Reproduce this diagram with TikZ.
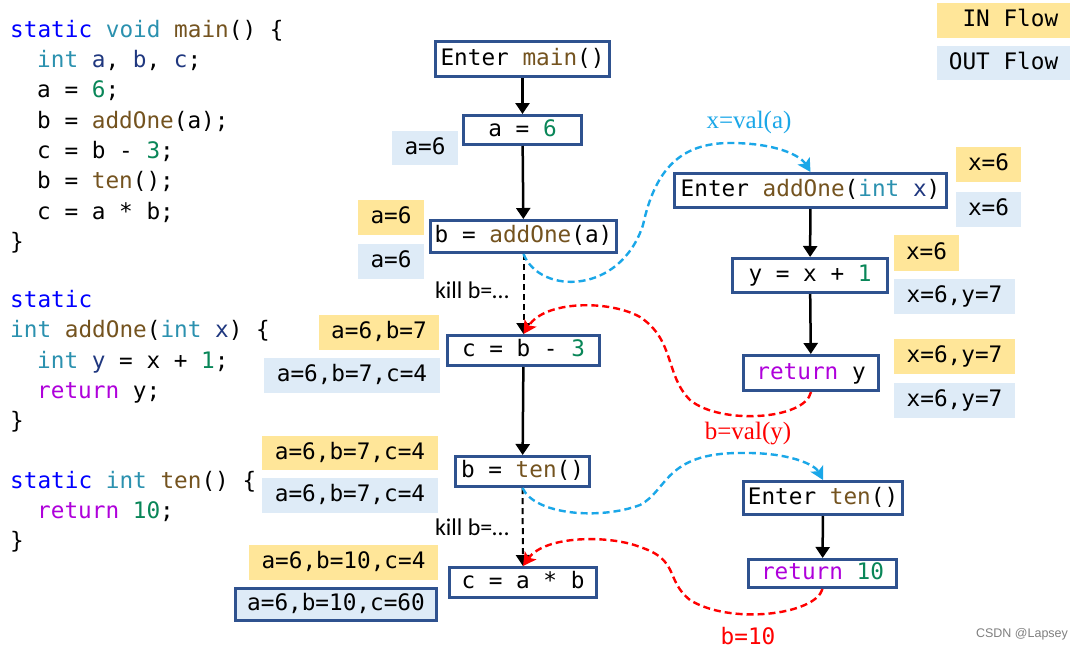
\documentclass[tikz,border=0pt]{standalone}
\usepackage{fontspec}
\setmonofont{DejaVu Sans Mono}
\newfontfamily\lblserif{Liberation Serif}
\newfontfamily\lblsans{Carlito}
\newfontfamily\wmfont{Liberation Sans}
\usetikzlibrary{arrows.meta}
\definecolor{boxblue}{HTML}{2F528F}
\definecolor{inyellow}{HTML}{FFE699}
\definecolor{outblue}{HTML}{DEEBF7}
\definecolor{kwblue}{HTML}{0000FF}
\definecolor{tyteal}{HTML}{2B91AF}
\definecolor{fnbrown}{HTML}{74531F}
\definecolor{varnavy}{HTML}{1F377F}
\definecolor{numgreen}{HTML}{098658}
\definecolor{retpurple}{HTML}{AF00DB}
\definecolor{callblue}{HTML}{1AA7E8}
\definecolor{retred}{HTML}{FF0000}
\newcommand\cSt[1]{\textcolor{kwblue}{#1}}
\newcommand\cTy[1]{\textcolor{tyteal}{#1}}
\newcommand\cFn[1]{\textcolor{fnbrown}{#1}}
\newcommand\cVa[1]{\textcolor{varnavy}{#1}}
\newcommand\cNu[1]{\textcolor{numgreen}{#1}}
\newcommand\cRe[1]{\textcolor{retpurple}{#1}}
\newcommand\codefont{\fontsize{22.7}{27}\selectfont\ttfamily}
\tikzset{
  codeline/.style={anchor=base west, inner sep=0pt, font=\codefont},
  cfg/.style={draw=boxblue, line width=3pt, fill=white, font=\codefont, inner sep=0pt,
    text height=16.5pt, text depth=4.5pt},
  fact/.style={inner sep=0pt, font=\codefont, text height=16.5pt, text depth=4.5pt},
  infact/.style={fact, fill=inyellow},
  outfact/.style={fact, fill=outblue},
  flow/.style={-{Triangle[length=11pt,width=14pt]}, line width=2.5pt, black},
  killflow/.style={flow, line width=2pt, dash pattern=on 6pt off 4pt},
  callflow/.style={-{Stealth[length=13pt,width=14pt,inset=3pt]}, line width=2.4pt, callblue, dash pattern=on 7pt off 4pt},
  retflow/.style={-{Stealth[length=13pt,width=14pt,inset=3pt]}, line width=2.4pt, retred, dash pattern=on 7pt off 4pt},
  killlbl/.style={font=\lblsans\fontsize{24}{28}\selectfont, inner sep=0pt},
  vallbl/.style={font=\lblserif\fontsize{25}{29}\selectfont, inner sep=0pt}
}
\begin{document}
\begin{tikzpicture}[x=1pt,y=-1pt]
\useasboundingbox (0,0) rectangle (1070,651);
\fill[white] (0,0) rectangle (1070,651);
% ---------- source code ----------
\node[codeline] (l1) at (10,37) {\cSt{static} \cTy{void} \cFn{main}() \{};
\node[codeline] (l2) at (37,67.3) {\cTy{int} \cVa{a}, \cVa{b}, \cVa{c};};
\node[codeline] (l3) at (37,97.6) {a = \cNu{6};};
\node[codeline] (l4) at (37,128) {b = \cFn{addOne}(a);};
\node[codeline] (l5) at (37,158.3) {c = b - \cNu{3};};
\node[codeline] (l6) at (37,188.6) {b = \cFn{ten}();};
\node[codeline] (l7) at (37,219) {c = a * b;};
\node[codeline] (l8) at (10,249.3) {\}};
\node[codeline] (l9) at (10,307) {\cSt{static}};
\node[codeline] (l10) at (10,337.5) {\cTy{int} \cFn{addOne}(\cTy{int} \cVa{x}) \{};
\node[codeline] (l11) at (37,368) {\cTy{int} \cVa{y} = x + \cNu{1};};
\node[codeline] (l12) at (37,398.3) {\cRe{return} y;};
\node[codeline] (l13) at (10,428.6) {\}};
\node[codeline] (l14) at (10,488) {\cSt{static} \cTy{int} \cFn{ten}() \{};
\node[codeline] (l15) at (37,518.3) {\cRe{return} \cNu{10};};
\node[codeline] (l16) at (10,548.6) {\}};
% ---------- legend ----------
\node[infact, minimum width=133pt, minimum height=35pt] (inleg) at (1003.5,20.5) {\hphantom{X}IN Flow};
\node[outfact, minimum width=133pt, minimum height=34pt] (outleg) at (1003.5,63) {OUT Flow};
% ---------- main CFG ----------
\node[cfg, minimum width=174pt, minimum height=35pt] (em) at (522.5,59) {Enter \cFn{main}()};
\node[cfg, minimum width=118pt, minimum height=29pt] (a6) at (522.5,130) {a = \cNu{6}};
\node[cfg, minimum width=186pt, minimum height=32pt] (bao) at (523.5,236.5) {b = \cFn{addOne}(a)};
\node[cfg, minimum width=152pt, minimum height=30pt] (cb3) at (523.5,350.5) {c = b - \cNu{3}};
\node[cfg, minimum width=134pt, minimum height=30pt] (bten) at (522.5,471.5) {b = \cFn{ten}()};
\node[cfg, minimum width=147pt, minimum height=30pt] (cab) at (523,582.5) {c = a * b};
% ---------- addOne CFG ----------
\node[cfg, minimum width=272pt, minimum height=34pt] (ea) at (810.5,190.5) {Enter \cFn{addOne}(\cTy{int} \cVa{x})};
\node[cfg, minimum width=155pt, minimum height=34pt] (yx) at (810,275.5) {y = x + \cNu{1}};
\node[cfg, minimum width=135pt, minimum height=35pt] (ry) at (811,373) {\cRe{return} y};
% ---------- ten CFG ----------
\node[cfg, minimum width=159pt, minimum height=33pt] (et) at (823,498) {Enter \cFn{ten}()};
\node[cfg, minimum width=148pt, minimum height=28pt] (r10) at (822.5,573.5) {\cRe{return} \cNu{10}};
% ---------- facts ----------
\node[outfact, minimum width=66pt, minimum height=34pt] (f1) at (425,148) {a=6};
\node[infact, minimum width=66pt, minimum height=35pt] (f2) at (391,217.5) {a=6};
\node[outfact, minimum width=66pt, minimum height=35pt] (f3) at (391,261.5) {a=6};
\node[infact, minimum width=120pt, minimum height=35pt] (f4) at (379,332.5) {a=6,b=7};
\node[outfact, minimum width=176pt, minimum height=35pt] (f5) at (352,375.5) {a=6,b=7,c=4};
\node[infact, minimum width=176pt, minimum height=34pt] (f6) at (350,453) {a=6,b=7,c=4};
\node[outfact, minimum width=176pt, minimum height=35pt] (f7) at (350,495.5) {a=6,b=7,c=4};
\node[infact, minimum width=189pt, minimum height=35pt] (f8) at (343.5,562.5) {a=6,b=10,c=4};
\node[outfact, draw=boxblue, line width=3pt, minimum width=201pt, minimum height=32pt] (f9) at (336,604.5) {a=6,b=10,c=60};
\node[infact, minimum width=65pt, minimum height=35pt] (g1) at (988.5,164.5) {x=6};
\node[outfact, minimum width=65pt, minimum height=35pt] (g2) at (988.5,209.5) {x=6};
\node[infact, minimum width=65pt, minimum height=36pt] (g3) at (926.5,253) {x=6};
\node[outfact, minimum width=121pt, minimum height=35pt] (g4) at (954.5,296.5) {x=6,y=7};
\node[infact, minimum width=121pt, minimum height=35pt] (g5) at (954.5,356.5) {x=6,y=7};
\node[outfact, minimum width=121pt, minimum height=35pt] (g6) at (954.5,400.5) {x=6,y=7};
% ---------- edges ----------
\draw[flow] (em) -- (a6);
\draw[flow] (a6) -- (bao);
\draw[killflow] (bao) -- (cb3);
\draw[flow] (cb3) -- (bten);
\draw[killflow] (bten) -- (cab);
\draw[flow] (ea) -- (yx);
\draw[flow] (yx) -- (ry);
\draw[flow] (et) -- (r10);
\node[killlbl] (k1) at (472,290) {kill b=…};
\node[killlbl] (k2) at (472,527) {kill b=…};
% call / return edges
\coordinate (c1a) at (643,225);
\coordinate (c1b) at (730,143);
\draw[callflow] (bao.south) .. controls (540,295) and (620,295) .. (c1a)
  .. controls (655,170) and (680,143) .. (c1b)
  .. controls (775,143) and (800,155) .. (ea.north);
\coordinate (c2a) at (640,505);
\coordinate (c2b) at (740,453);
\draw[callflow] (bten.south) .. controls (535,515) and (600,520) .. (c2a)
  .. controls (668,490) and (665,453) .. (c2b)
  .. controls (790,452) and (815,465) .. (et.north);
\coordinate (r1a) at (690,400);
\coordinate (r1b) at (640,317);
\draw[retflow] (ry.south) .. controls (805,420) and (720,425) .. (r1a)
  .. controls (665,375) and (675,340) .. (r1b)
  .. controls (610,300) and (545,300) .. (cb3.north);
\coordinate (r2a) at (690,600);
\coordinate (r2b) at (640,547);
\draw[retflow] (r10.south) .. controls (815,615) and (730,625) .. (r2a)
  .. controls (665,580) and (680,560) .. (r2b)
  .. controls (610,535) and (545,535) .. (cab.north);
\node[vallbl, text=callblue] (v1) at (749,122) {x=val(a)};
\node[vallbl, text=retred] (v2) at (748,434) {b=val(y)};
\node[font=\codefont, text=retred, inner sep=0pt] (v3) at (748,636) {b=10};
\node[font=\wmfont\fontsize{12.5}{15}\selectfont, text=gray, inner sep=0pt] (wm) at (1022,634) {CSDN @Lapsey};
\end{tikzpicture}
\end{document}
